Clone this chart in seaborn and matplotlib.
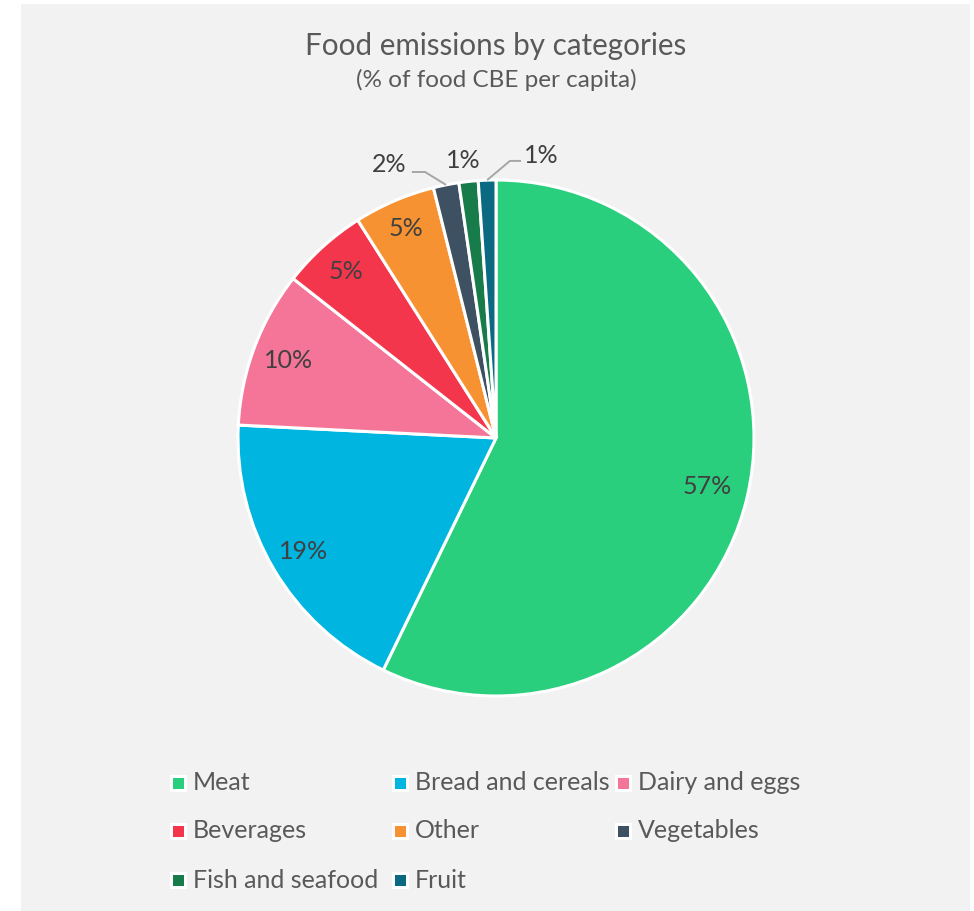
import matplotlib
matplotlib.use("Agg")
import matplotlib.pyplot as plt
from matplotlib.patches import Rectangle
import numpy as np
import seaborn as sns

sns.set_theme(style="white")
plt.rcParams["font.family"] = ["Lato", "DejaVu Sans"]

# Share of food consumption-based emissions per capita (%)
categories = ["Meat", "Bread and cereals", "Dairy and eggs", "Beverages",
              "Other", "Vegetables", "Fish and seafood", "Fruit"]
shares = [57.2, 18.6, 9.8, 5.4, 5.1, 1.6, 1.2, 1.1]
colors = ["#2ACF7D", "#00B5E0", "#F47598", "#F4364C",
          "#F79232", "#3E5163", "#187C4A", "#0B6A82"]

title = "Food emissions by categories"
subtitle = "(% of food CBE per capita)"

text_dark = "#404040"
text_grey = "#595959"
bg = "#F2F2F2"

W, H = 974, 911
fig = plt.figure(figsize=(W / 100, H / 100), dpi=100)
fig.patch.set_facecolor("white")
fig.add_artist(Rectangle((21 / W, 0), (970 - 21) / W, (H - 4) / H,
                         transform=fig.transFigure, facecolor=bg,
                         edgecolor="none", zorder=-10))

cx, cy, r = 496, 438, 258
ax = fig.add_axes([(cx - r) / W, (H - cy - r) / H, 2 * r / W, 2 * r / H])
ax.set_facecolor("none")

wedges, _ = ax.pie(shares, colors=colors, startangle=90, counterclock=False,
                   radius=1.0,
                   wedgeprops=dict(edgecolor="white", linewidth=2.2))
ax.set_xlim(-1, 1)
ax.set_ylim(-1, 1)
ax.set_aspect("equal")
ax.axis("off")

# Percentage labels: large slices inside, small slices outside
label_size = 18
inside_dist = [0.84, 0.865, 0.86, 0.87, 0.885]
outside_pos = {5: (-0.415, 1.062), 6: (-0.128, 1.075), 7: (0.176, 1.095)}
for i, (w, v) in enumerate(zip(wedges, shares)):
    mid = np.deg2rad((w.theta1 + w.theta2) / 2)
    label = f"{v:.0f}%"
    if i < len(inside_dist):
        d = inside_dist[i]
        ax.text(d * np.cos(mid), d * np.sin(mid), label, ha="center",
                va="center", fontsize=label_size, color=text_dark)
    else:
        lx, ly = outside_pos[i]
        ax.text(lx, ly, label, ha="center", va="center", fontsize=label_size,
                color=text_dark, clip_on=False)
        px, py = np.cos(mid), np.sin(mid)
        if i == 5:
            xs = [px, -0.275, -0.326]
            ys = [py, 1.031, 1.031]
        elif i == 7:
            xs = [px, 0.054, 0.097]
            ys = [py, 1.074, 1.074]
        else:
            continue
        ax.plot(xs, ys, color="#A6A6A6", lw=1.4, clip_on=False,
                solid_capstyle="butt")

fig.text(cx / W, 1 - 46 / H, title, ha="center", va="center", fontsize=21.3,
         color=text_grey)
fig.text(cx / W, 1 - 80 / H, subtitle, ha="center", va="center",
         fontsize=17.5, color=text_grey)

# Legend laid out row by row on a fixed three-column grid
col_x = [178, 400, 623]
row_y = [783, 831, 880]
box = 17
for i, (name, c) in enumerate(zip(categories, colors)):
    mx, my = col_x[i % 3], row_y[i // 3]
    fig.add_artist(Rectangle(((mx - box / 2) / W, 1 - (my + box / 2) / H),
                             box / W, box / H, transform=fig.transFigure,
                             facecolor="white", edgecolor="none"))
    inner = 11
    fig.add_artist(Rectangle(((mx - inner / 2) / W, 1 - (my + inner / 2) / H),
                             inner / W, inner / H, transform=fig.transFigure,
                             facecolor=c, edgecolor="none"))
    fig.text((mx + 15) / W, 1 - my / H, name, ha="left", va="center",
             fontsize=18, color=text_grey)

fig.savefig("out.png", dpi=100, facecolor=fig.get_facecolor())
